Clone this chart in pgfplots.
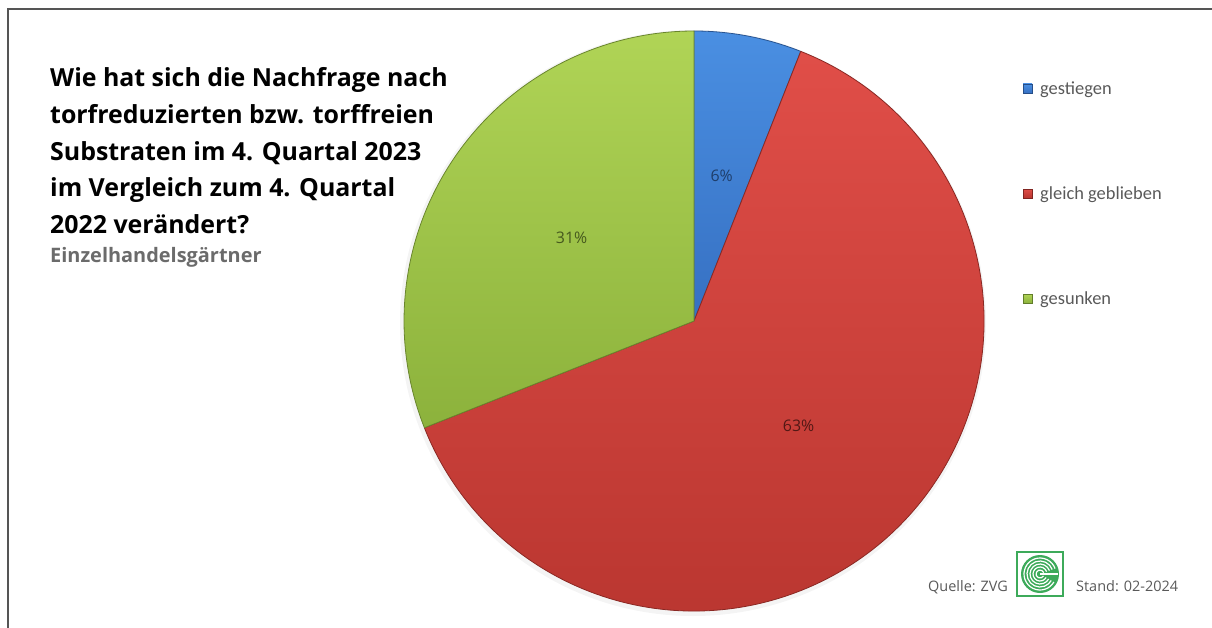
\documentclass[border=0pt]{standalone}
\usepackage{pgfplots}
\pgfplotsset{compat=1.18}
\usepackage{pgfplotstable}
\usepackage{fontspec}
\setmainfont{Open Sans}
\newfontfamily\legfont{Carlito}
\definecolor{blueT}{HTML}{4A8FE2}
\definecolor{blueB}{HTML}{3670C2}
\definecolor{redT}{HTML}{E04E48}
\definecolor{redB}{HTML}{B8352F}
\definecolor{greenT}{HTML}{B0D456}
\definecolor{greenB}{HTML}{8CB23C}
\definecolor{txtgray}{HTML}{595959}
\definecolor{subgray}{HTML}{6B6B6B}
\definecolor{frame}{HTML}{555555}
\definecolor{zvg}{HTML}{3DAA5A}

\pgfplotstableread{
label value
gestiegen 6
{gleich geblieben} 63
gesunken 31
}\piedata

\begin{document}
\begin{tikzpicture}
\pgfplotstablegetelem{0}{value}\of\piedata \let\vA\pgfplotsretval
\pgfplotstablegetelem{1}{value}\of\piedata \let\vB\pgfplotsretval
\pgfplotstablegetelem{2}{value}\of\piedata \let\vC\pgfplotsretval
\pgfmathsetmacro\sA{90}
\pgfmathsetmacro\eA{\sA-3.6*\vA}
\pgfmathsetmacro\eB{\eA-3.6*\vB}
\pgfmathsetmacro\eC{\eB-3.6*\vC}
\pgfmathsetmacro\mA{(\sA+\eA)/2}
\pgfmathsetmacro\mB{(\eA+\eB)/2}
\pgfmathsetmacro\mC{(\eB+\eC)/2}
\begin{axis}[
  width=1212bp, height=628bp, scale only axis,
  xmin=0, xmax=1212, ymin=0, ymax=628, y dir=reverse,
  hide axis, clip=false]
\coordinate (BL) at (axis cs:0,628);
\coordinate (TR) at (axis cs:1212,0);
% frame
\draw[frame, line width=2bp] (axis cs:8,628) -- (axis cs:8,9) -- (axis cs:1212,9);
% soft shadow
\fill[black, opacity=0.045] (axis cs:693,323) circle[radius=293bp];
% wedges
\shade[top color=blueT, bottom color=blueB, draw=blueB!75!black, line width=0.8bp, line join=round]
  (axis cs:694,321) -- ++(\sA:290bp) arc[start angle=\sA, end angle=\eA, radius=290bp] -- cycle;
\shade[top color=redT, bottom color=redB, draw=redB!75!black, line width=0.8bp, line join=round]
  (axis cs:694,321) -- ++(\eA:290bp) arc[start angle=\eA, end angle=\eB, radius=290bp] -- cycle;
\shade[top color=greenT, bottom color=greenB, draw=greenB!75!black, line width=0.8bp, line join=round]
  (axis cs:694,321) -- ++(\eB:290bp) arc[start angle=\eB, end angle=\eC, radius=290bp] -- cycle;
% data labels
\node[font=\fontsize{16}{19}\selectfont, text=blueB!55!black] at ([shift={(\mA:148bp)}]axis cs:694,321) {\vA\%};
\node[font=\fontsize{16}{19}\selectfont, text=redB!45!black] at ([shift={(\mB:148bp)}]axis cs:694,321) {\vB\%};
\node[font=\fontsize{16}{19}\selectfont, text=greenB!50!black] at ([shift={(\mC:148bp)}]axis cs:694,321) {\vC\%};
% title
\begin{scope}[every node/.style={anchor=base west, inner sep=0pt, font=\fontsize{25}{30}\selectfont\bfseries}]
\node at (axis cs:50,87) {Wie hat sich die Nachfrage nach};
\node at (axis cs:50,123.5) {torfreduzierten bzw. torffreien};
\node at (axis cs:50,160) {Substraten im 4. Quartal 2023};
\node at (axis cs:50,196.5) {im Vergleich zum 4. Quartal};
\node at (axis cs:50,233) {2022 verändert?};
\end{scope}
\node[anchor=base west, inner sep=0pt, text=subgray, font=\fontsize{20}{24}\selectfont\bfseries] at (axis cs:50,262) {Einzelhandelsgärtner};
% legend
\begin{scope}[every node/.style={anchor=base west, inner sep=0pt, text=txtgray, font=\legfont\fontsize{18.5}{22}\selectfont}]
\shade[top color=blueT, bottom color=blueB, draw=blueB!70!black, line width=0.4bp] (axis cs:1023,84) rectangle (axis cs:1032,93);
\node at (axis cs:1040,94) {gestiegen};
\shade[top color=redT, bottom color=redB, draw=redB!70!black, line width=0.4bp] (axis cs:1023,189) rectangle (axis cs:1032,198);
\node at (axis cs:1040,199) {gleich geblieben};
\shade[top color=greenT, bottom color=greenB, draw=greenB!70!black, line width=0.4bp] (axis cs:1023,294) rectangle (axis cs:1032,303);
\node at (axis cs:1040,304) {gesunken};
\end{scope}
% footer
\node[anchor=base west, inner sep=0pt, text=txtgray, font=\fontsize{14.5}{17}\selectfont] at (axis cs:928,591) {Quelle: ZVG};
\node[anchor=base west, inner sep=0pt, text=txtgray, font=\fontsize{14.5}{17}\selectfont] at (axis cs:1076,591) {Stand: 02-2024};
% logo
\draw[zvg, line width=1.5bp, fill=white] (axis cs:1017,552) rectangle (axis cs:1063,596);
\fill[zvg] (axis cs:1040,574) circle[radius=19bp];
\draw[white, line width=1.2bp] ([shift={(20:4bp)}]axis cs:1040,574) arc[start angle=20, end angle=330, radius=4bp];
\draw[white, line width=1.2bp] ([shift={(20:7bp)}]axis cs:1040,574) arc[start angle=20, end angle=330, radius=7bp];
\draw[white, line width=1.2bp] ([shift={(20:10bp)}]axis cs:1040,574) arc[start angle=20, end angle=330, radius=10bp];
\draw[white, line width=1.2bp] ([shift={(20:13bp)}]axis cs:1040,574) arc[start angle=20, end angle=330, radius=13bp];
\draw[white, line width=1.2bp] ([shift={(20:16bp)}]axis cs:1040,574) arc[start angle=20, end angle=330, radius=16bp];
\draw[white, line width=1.2bp] (axis cs:1040,574) -- (axis cs:1058,574);
\end{axis}
\pgfresetboundingbox
\path[use as bounding box] (BL) rectangle (TR);
\end{tikzpicture}
\end{document}
